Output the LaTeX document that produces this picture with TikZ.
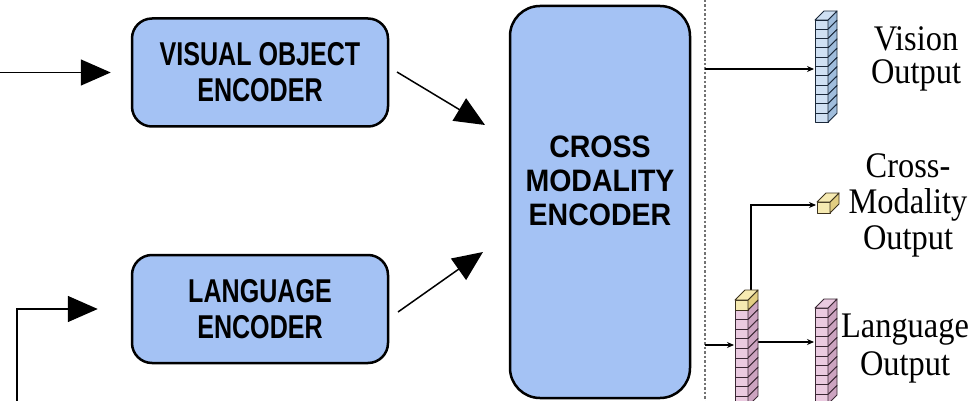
\documentclass[tikz,border=0pt]{standalone}
\usepackage{fontspec}
\setmainfont{Liberation Serif}
\newfontfamily\boxfont[FakeStretch=0.76]{Liberation Sans}
\newfontfamily\cmefont[FakeStretch=0.92]{Liberation Sans}
\newfontfamily\outfont[FakeStretch=0.9]{Liberation Serif}
\usetikzlibrary{arrows.meta}
\definecolor{boxblue}{RGB}{164,194,244}
\definecolor{cubeblue}{RGB}{207,224,243}
\definecolor{cubeblueside}{RGB}{160,189,220}
\definecolor{cubeblueedge}{RGB}{26,40,58}
\definecolor{cubepink}{RGB}{234,202,224}
\definecolor{cubepinkside}{RGB}{204,164,192}
\definecolor{cubepinkedge}{RGB}{58,40,52}
\definecolor{cubeyel}{RGB}{246,234,178}
\definecolor{cubeyelside}{RGB}{226,206,130}
\definecolor{cubeyeledge}{RGB}{60,50,30}
\newcommand{\drawcube}[8]{%
  \filldraw[draw=#8, line width=0.9pt, line join=round, fill=#6] (#1,#2) rectangle ++(#3,#4);
  \filldraw[draw=#8, line width=0.9pt, line join=round, fill=#7] (#1+#3,#2) -- ++(#5,-#5) -- ++(0,#4) -- ++(-#5,#5) -- cycle;}
\newcommand{\drawcubetop}[6]{%
  \filldraw[draw=#6, line width=0.9pt, line join=round, fill=#5] (#1,#2) -- ++(#4,-#4) -- ++(#3,0) -- ++(-#4,#4) -- cycle;}
\begin{document}
\begin{tikzpicture}[x=1pt,y=-1pt,
  encbox/.style={draw=black, line width=2.5pt, fill=boxblue, rounded corners=20pt,
    minimum width=256pt, minimum height=108pt, align=center, inner sep=0pt,
    font=\boxfont\bfseries\fontsize{33}{36}\selectfont},
  cmebox/.style={draw=black, line width=2.5pt, fill=boxblue, rounded corners=30pt,
    minimum width=180pt, minimum height=392pt, inner sep=0pt},
  cmetext/.style={align=center, inner sep=0pt, font=\cmefont\bfseries\fontsize{31}{34}\selectfont},
  outtext/.style={align=center, inner sep=0pt, text=black},
  bigarrow/.style={line width=1.5pt, -{Triangle[length=30pt,width=26pt]}},
  thinarrow/.style={line width=1.1pt, -{Stealth[length=7pt,width=6pt]}},
  dashline/.style={line width=1.6pt, black!55, dash pattern=on 2.5pt off 2pt}]
\useasboundingbox (0,0) rectangle (980,401);
\begin{scope}
\clip (0,0) rectangle (980,401);

% encoders
\node[encbox] (voe) at (260,72.5) {VISUAL OBJECT\\ENCODER};
\node[encbox] (le) at (260,309) {LANGUAGE\\ENCODER};
\node[cmebox] (cme) at (600,202) {};
\node[cmetext] (cmet) at (600,181) {CROSS\\MODALITY\\ENCODER};

% input arrows
\coordinate (in1) at (0,72.5);
\coordinate (in2) at (17,401);
\draw[bigarrow, shorten >=20pt] (in1) -- (voe.west);
\draw[bigarrow, shorten >=33pt] (in2) |- (le.west);

% arrows to cross-modality encoder
\coordinate (a1s) at (397,72);
\coordinate (a1e) at (485,125);
\coordinate (a2s) at (398,312);
\coordinate (a2e) at (483,252);
\draw[bigarrow] (a1s) -- (a1e);
\draw[bigarrow] (a2s) -- (a2e);

% dashed separator
\coordinate (dtop) at (705,0);
\coordinate (dbot) at (705,401);
\draw[dashline] (dtop) -- (dbot);

% output arrows
\coordinate (dv) at (705,69);
\coordinate (vst) at (814,69);
\draw[thinarrow] (dv) -- (vst);
\coordinate (dl) at (705,345);
\coordinate (lsw) at (734,345);
\draw[thinarrow] (dl) -- (lsw);
\coordinate (lse) at (758,342);
\coordinate (rsw) at (814,342);
\draw[thinarrow] (lse) -- (rsw);
\coordinate (lst) at (751,293);
\coordinate (ycw) at (816,205);
\draw[thinarrow] (lst) |- (ycw);

% vision stack
\foreach \i in {0,...,10} {\drawcube{815}{20+\i*9.3}{13}{9.3}{9}{cubeblue}{cubeblueside}{cubeblueedge}}
\drawcubetop{815}{20}{13}{9}{cubeblue}{cubeblueedge}

% cross-modality cube
\drawcube{817}{202}{13}{11}{9}{cubeyel}{cubeyelside}{cubeyeledge}
\drawcubetop{817}{202}{13}{9}{cubeyel}{cubeyeledge}

% left stack (language + cls)
\foreach \i in {0,...,9} {\drawcube{735}{310+\i*9.6}{13}{9.6}{10}{cubepink}{cubepinkside}{cubepinkedge}}
\drawcube{735}{300}{13}{10}{10}{cubeyel}{cubeyelside}{cubeyeledge}
\drawcubetop{735}{300}{13}{10}{cubeyel}{cubeyeledge}

% language output stack
\foreach \i in {0,...,9} {\drawcube{815}{308+\i*9.6}{13}{9.6}{9}{cubepink}{cubepinkside}{cubepinkedge}}
\drawcubetop{815}{308}{13}{9}{cubepink}{cubepinkedge}

% output labels
\node[outtext, font=\outfont\fontsize{36}{33}\selectfont] (vout) at (916,59) {Vision\\Output};
\node[outtext, font=\outfont\fontsize{36}{36}\selectfont] (cout) at (908,205) {Cross-\\Modality\\Output};
\node[outtext, font=\outfont\fontsize{36}{38}\selectfont] (lout) at (905,349) {Language\\Output};
\end{scope}
\end{tikzpicture}
\end{document}
